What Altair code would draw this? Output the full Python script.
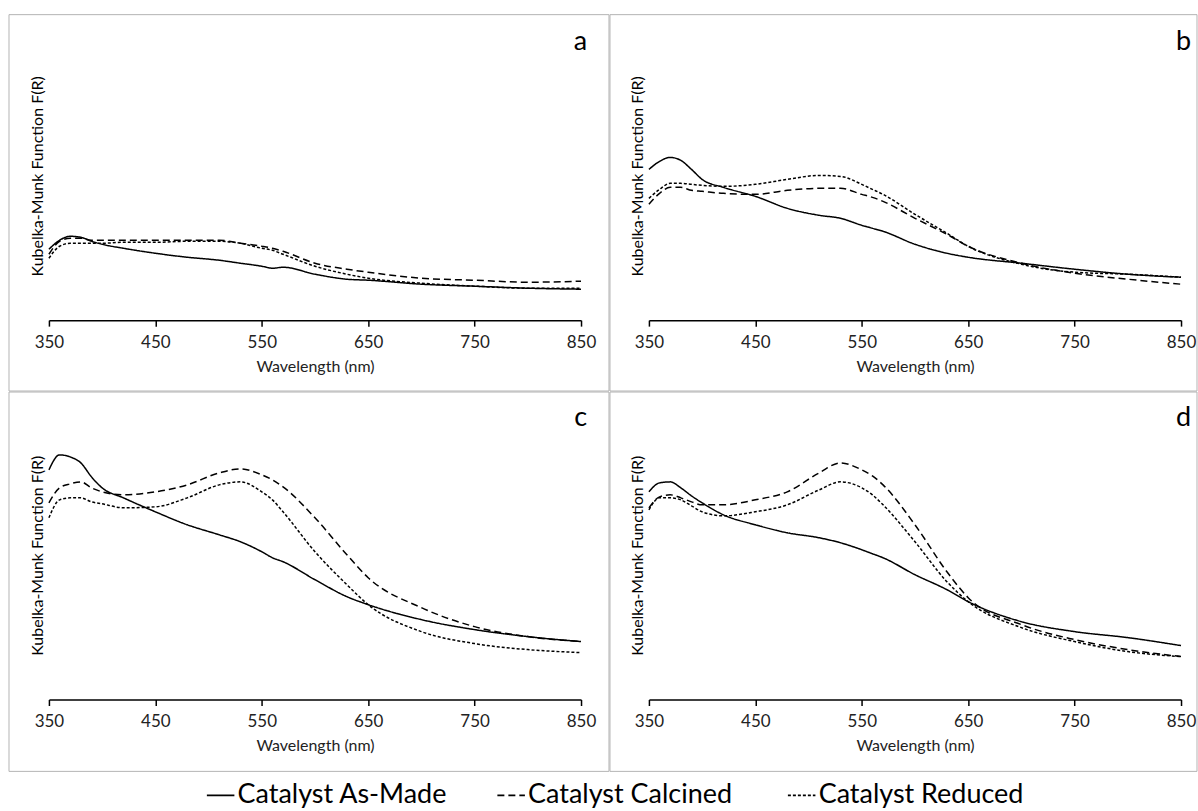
import altair as alt
import pandas as pd

# ---------------- data ----------------
wavelength = [350, 360, 370, 380, 390, 400, 420, 450, 480, 510, 530, 550, 560, 570,
              600, 630, 650, 700, 750, 800, 850]
series_names = ["Catalyst As-Made", "Catalyst Calcined", "Catalyst Reduced"]
panel_letters = ["a", "b", "c", "d"]

a_as_made = [71, 80, 84, 83, 79, 76, 72, 67, 63, 60, 57, 54, 52, 53, 46, 41, 40, 36, 34, 32, 31]
a_calcined = [66, 79, 82, 82, 80, 80, 80, 80, 80, 80, 77, 74, 72, 69, 57, 51, 48, 42, 40, 38, 39]
a_reduced = [62, 74, 77, 77, 77, 77, 78, 78, 79, 79, 77, 72, 70, 66, 54, 46, 42, 37, 34, 32, 32]

b_as_made = [151, 159, 163, 160, 151, 141, 133, 124, 112, 105, 102, 95, 92, 89, 76, 67, 63, 57, 51, 46, 43]
b_calcined = [116, 127, 133, 133, 130, 129, 127, 126, 130, 132, 132, 126, 123, 119, 102, 86, 74, 57, 47, 41, 36]
b_reduced = [122, 131, 137, 137, 136, 135, 134, 136, 141, 145, 144, 136, 131, 126, 106, 87, 74, 56, 48, 46, 43]

c_as_made = [230, 245, 243, 237, 223, 212, 202, 188, 175, 165, 158, 148, 142, 138, 120, 103, 95, 80, 70, 63, 58]
c_calcined = [197, 212, 216, 218, 212, 208, 205, 208, 215, 227, 231, 225, 220, 213, 182, 145, 122, 92, 73, 63, 58]
c_reduced = [182, 200, 202, 202, 198, 196, 192, 193, 202, 215, 218, 208, 200, 188, 148, 115, 95, 68, 56, 50, 47]

d_as_made = [208, 217, 218, 212, 204, 197, 185, 175, 167, 162, 157, 150, 146, 142, 125, 110, 98, 78, 68, 62, 54]
d_calcined = [192, 203, 205, 202, 198, 195, 195, 200, 208, 227, 237, 230, 224, 215, 175, 128, 102, 75, 60, 50, 43]
d_reduced = [190, 202, 202, 200, 194, 188, 184, 188, 195, 210, 218, 212, 205, 195, 158, 118, 98, 72, 58, 48, 43]

x_ticks = [350, 450, 550, 650, 750, 850]

FONT = "Lato"
FRAME = "#b4b4b4"
PW, PH = 533, 289


def frame_rule(**enc):
    return alt.Chart(pd.DataFrame({"k": [0]})).mark_rule(
        color=FRAME, strokeWidth=1).encode(**enc)


def panel(letter, series, left, right, top, bottom, letter_x, letter_y):
    rows = []
    for name, vals in zip(series_names, series):
        for w, v in zip(wavelength, vals):
            rows.append({"wavelength": w, "value": v, "series": name})
    df = pd.DataFrame(rows)

    lines = alt.Chart(df).mark_line(color="black", strokeWidth=1.5, interpolate="monotone").encode(
        x=alt.X("wavelength:Q",
                scale=alt.Scale(domain=[350, 850], nice=False, zero=False),
                axis=alt.Axis(values=x_ticks, title="Wavelength (nm)", grid=False,
                              domainColor="black", domainWidth=1.5, tickColor="black",
                              tickWidth=1.5, tickSize=6, labelFontSize=17, labelFont=FONT,
                              labelColor="#222222", labelPadding=8, labelFlush=False,
                              titleFontSize=16, titleFont=FONT, titleFontWeight="normal",
                              titleColor="#222222", titlePadding=8)),
        y=alt.Y("value:Q",
                scale=alt.Scale(domain=[0, PH], nice=False, zero=True),
                axis=alt.Axis(title="Kubelka-Munk Function F(R)", labels=False, ticks=False,
                              domain=False, grid=False, minExtent=0, titlePadding=3,
                              titleFontSize=16, titleFont=FONT, titleFontWeight="normal",
                              titleColor="black")),
        strokeDash=alt.StrokeDash(
            "series:N",
            scale=alt.Scale(domain=series_names, range=[[1, 0], [7, 4], [3, 2]]),
            legend=alt.Legend(title=None, orient="none", direction="horizontal",
                              legendX=157, legendY=750, symbolType="stroke",
                              symbolStrokeColor="black", symbolStrokeWidth=1.6,
                              symbolSize=760, labelFontSize=27, labelFont=FONT,
                              labelColor="black", labelLimit=400, labelOffset=2,
                              gridAlign="all", columnPadding=46, padding=0)),
        detail="series:N",
    )

    label = alt.Chart(pd.DataFrame({"label": [letter]})).mark_text(
        fontSize=27, font=FONT, align="right", baseline="alphabetic", color="black"
    ).encode(x=alt.value(letter_x), y=alt.value(letter_y), text="label:N")

    frames = [
        frame_rule(x=alt.value(left), y=alt.value(top), y2=alt.value(bottom)),
        frame_rule(x=alt.value(right), y=alt.value(top), y2=alt.value(bottom)),
        frame_rule(y=alt.value(top), x=alt.value(left), x2=alt.value(right)),
        frame_rule(y=alt.value(bottom), x=alt.value(left), x2=alt.value(right)),
    ]
    return alt.layer(*frames, lines, label).properties(width=PW, height=PH)


pa = panel(panel_letters[0], [a_as_made, a_calcined, a_reduced], -40, 561, -17, 360, 539, 18)
pb = panel(panel_letters[1], [b_as_made, b_calcined, b_reduced], -39, 549, -17, 360, 543, 18)
pc = panel(panel_letters[2], [c_as_made, c_calcined, c_reduced], -40, 561, -19, 361, 539, 15)
pd_ = panel(panel_letters[3], [d_as_made, d_calcined, d_reduced], -39, 549, -19, 361, 543, 15)

chart = alt.vconcat(
    alt.hconcat(pa, pb, spacing=-1),
    alt.hconcat(pc, pd_, spacing=-1),
    spacing=-1,
).resolve_scale(strokeDash="shared").properties(
    padding={"left": 8, "top": 13, "right": 0, "bottom": 0},
    background="white",
).configure(font=FONT).configure_view(stroke="transparent", strokeWidth=0)

chart.save("out.html", embed_options={"renderer": "svg", "actions": False})
